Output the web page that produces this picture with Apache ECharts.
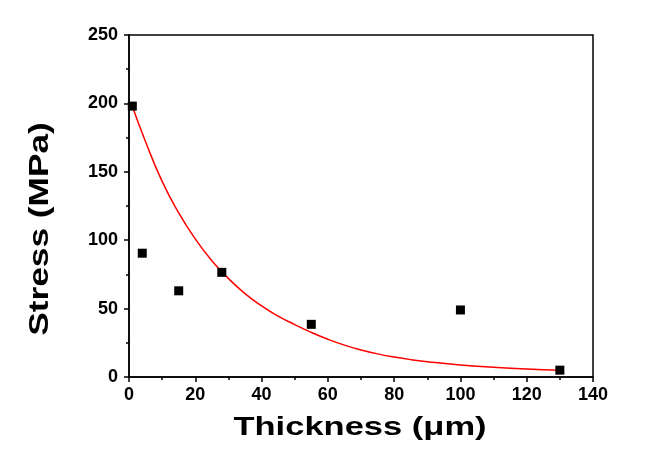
<!DOCTYPE html>
<html>
<head>
<meta charset="utf-8">
<script src="https://cdn.jsdelivr.net/npm/echarts@6/dist/echarts.min.js"></script>
<style>
html,body{margin:0;padding:0;background:#fff;}
#c{width:663px;height:459px;}
</style>
</head>
<body>
<div id="c"></div>
<script>
// Measured points
const thickness = [1, 4, 15, 28, 55, 100, 130];
const stress = [198, 90.5, 63, 76.5, 38.5, 49, 5];
// Fitted curve
const fitX = [1, 5, 10, 15, 20, 25, 30, 35, 40, 45, 50, 55, 60, 65, 70, 75, 80, 85, 90, 100, 110, 120, 130];
const fitY = [198, 172, 143, 120, 101, 85, 72, 61, 52, 44.5, 38.3, 32.6, 27.6, 23.3, 19.8, 16.9, 14.6, 12.7, 11.2, 8.8, 7.1, 5.8, 4.9];
// Axis ticks
const xTicks = { min: 0, max: 140, interval: 20 };
const yTicks = { min: 0, max: 250, interval: 50 };
const xTitle = 'Thickness (\u03bcm)';
const yTitle = 'Stress (MPa)';

const chart = echarts.init(document.getElementById('c'), null, { renderer: 'canvas' });
const font = '"Liberation Sans", Arial, sans-serif';
const axisCommon = {
  axisLine: { show: true, onZero: false, lineStyle: { color: '#000', width: 1.5 } },
  axisTick: { show: true, inside: false, length: 5, lineStyle: { color: '#000', width: 1.5 } },
  minorTick: { show: true, splitNumber: 2, length: 3, lineStyle: { color: '#000', width: 1.5 } },
  splitLine: { show: false },
  axisLabel: { color: '#000', fontFamily: font, fontWeight: 'bold', fontSize: 18 }
};
chart.setOption({
  animation: false,
  backgroundColor: '#fff',
  grid: { left: 129, right: 70, top: 35, bottom: 82, show: true, borderColor: '#000', borderWidth: 1.5, backgroundColor: 'transparent' },
  xAxis: Object.assign({}, axisCommon, {
    type: 'value', min: xTicks.min, max: xTicks.max, interval: xTicks.interval,
    axisLabel: Object.assign({}, axisCommon.axisLabel, { margin: 9 })
  }),
  yAxis: Object.assign({}, axisCommon, {
    type: 'value', min: yTicks.min, max: yTicks.max, interval: yTicks.interval,
    axisLabel: Object.assign({}, axisCommon.axisLabel, { margin: 11 })
  }),
  graphic: [
    { type: 'text', x: 360, y: 428, scaleX: 1.38,
      style: { text: xTitle, font: 'bold 25px ' + font, fill: '#000', textAlign: 'center', textVerticalAlign: 'middle' } },
    { type: 'text', x: 40, y: 229, rotation: Math.PI / 2, scaleX: 1.26,
      style: { text: yTitle, font: 'bold 28px ' + font, fill: '#000', textAlign: 'center', textVerticalAlign: 'middle' } }
  ],
  series: [
    { type: 'line', data: fitX.map((x, i) => [x, fitY[i]]), smooth: 0.5, showSymbol: false,
      lineStyle: { color: '#ff0000', width: 1.5 }, z: 2 },
    { type: 'scatter', data: thickness.map((x, i) => [x, stress[i]]), symbol: 'rect', symbolSize: 9,
      itemStyle: { color: '#000', opacity: 1 }, z: 3 }
  ]
});
</script>
</body>
</html>
